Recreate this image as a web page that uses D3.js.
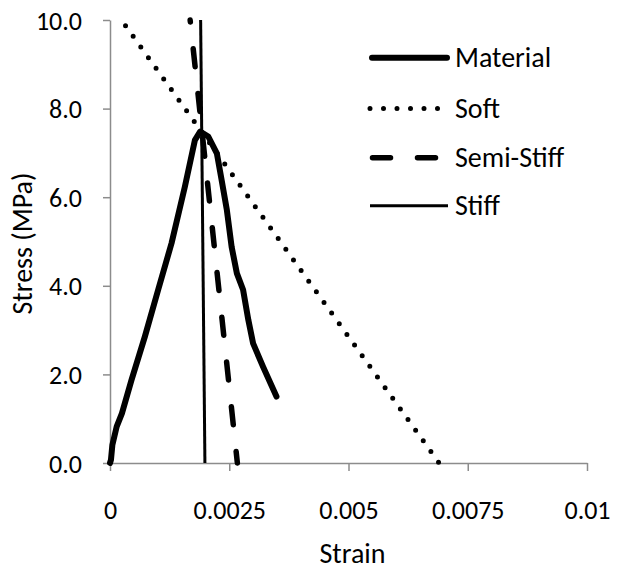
<!DOCTYPE html>
<html>
<head>
<meta charset="utf-8">
<script src="https://cdn.jsdelivr.net/npm/d3@7"></script>
<style>
  html, body { margin: 0; padding: 0; background: #fff; }
  svg { display: block; }
  text { font-family: Carlito, Lato, "DejaVu Sans", sans-serif; fill: #000; }
</style>
</head>
<body>
<svg id="chart" width="617" height="573"></svg>
<script>
// Stress–strain curves: measured material response and three loading lines
const materialStrain = [0, 0.00002, 0.00005, 0.00014, 0.00025, 0.00045, 0.00073, 0.00101, 0.00129, 0.00157, 0.00178, 0.00189,
                        0.00206, 0.00224, 0.00234, 0.00245, 0.00255, 0.00266, 0.00279, 0.0029, 0.003, 0.00321, 0.00349];
const materialStress = [0, 0.07, 0.41, 0.82, 1.12, 1.87, 2.85, 3.91, 4.96, 6.24, 7.29, 7.48,
                        7.37, 6.99, 6.39, 5.71, 4.88, 4.28, 3.91, 3.23, 2.7, 2.17, 1.5];
const softStrain = [0.00024, 0.0069];
const softStress = [10, 0];
const semiStiffStrain = [0.00168, 0.00267];
const semiStiffStress = [10, 0];
const stiffStrain = [0.0019, 0.00199];
const stiffStress = [10, 0];

const xTicks = [0, 0.0025, 0.005, 0.0075, 0.01];
const xTickLabels = ["0", "0.0025", "0.005", "0.0075", "0.01"];
const yTicks = [0, 2, 4, 6, 8, 10];
const yTickLabels = ["0.0", "2.0", "4.0", "6.0", "8.0", "10.0"];
const seriesNames = ["Material", "Soft", "Semi-Stiff", "Stiff"];

const svg = d3.select("#chart");
const plot = { left: 110, right: 587, top: 20, bottom: 463 };
const tickFont = 26, titleFont = 28;
const axisColor = "#8c8c8c";

const x = d3.scaleLinear().domain([0, 0.01]).range([plot.left, plot.right]);
const y = d3.scaleLinear().domain([0, 10]).range([plot.bottom, plot.top]);

// Axes
const xAxis = svg.append("g").attr("transform", `translate(0,${plot.bottom})`)
  .call(d3.axisBottom(x).tickValues(xTicks).tickFormat((d, i) => xTickLabels[i]).tickSize(8).tickSizeOuter(0));
const yAxis = svg.append("g").attr("transform", `translate(${plot.left},0)`)
  .call(d3.axisLeft(y).tickValues(yTicks).tickFormat((d, i) => yTickLabels[i]).tickSize(7).tickSizeOuter(0));

[xAxis, yAxis].forEach(g => {
  g.select(".domain").attr("stroke", axisColor).attr("stroke-width", 1.5);
  g.selectAll(".tick line").attr("stroke", axisColor).attr("stroke-width", 1.5);
  g.selectAll(".tick text").attr("font-size", tickFont).attr("fill", "#000")
    .style("font-family", "Carlito, Lato, sans-serif");
});
xAxis.selectAll(".tick text").attr("y", 0).attr("dy", null)
  .attr("transform", "translate(0,56)");
yAxis.selectAll(".tick text").attr("x", -28).attr("dy", null)
  .attr("transform", "translate(0,9)");

// Axis titles
svg.append("text").attr("x", (plot.left + plot.right) / 2 + 4).attr("y", 563)
  .attr("text-anchor", "middle").attr("font-size", titleFont).text("Strain");
svg.append("text").attr("transform", `translate(32,${(plot.top + plot.bottom) / 2 + 2}) rotate(-90)`)
  .attr("text-anchor", "middle").attr("font-size", titleFont).text("Stress (MPa)");

const line = d3.line().x(d => x(d[0])).y(d => y(d[1]));
const pairs = (a, b) => a.map((v, i) => [v, b[i]]);

// Soft loading line (round dots)
svg.append("path").datum(pairs(softStrain, softStress)).attr("d", line)
  .attr("fill", "none").attr("stroke", "#000").attr("stroke-width", 5)
  .attr("stroke-linecap", "round").attr("stroke-dasharray", "0 13.1").attr("stroke-dashoffset", 6.1);

// Semi-stiff loading line (long dashes)
svg.append("path").datum(pairs(semiStiffStrain, semiStiffStress)).attr("d", line)
  .attr("fill", "none").attr("stroke", "#000").attr("stroke-width", 5.5)
  .attr("stroke-linecap", "round").attr("stroke-dasharray", "18 27").attr("stroke-dashoffset", 16);

// Stiff loading line (thin solid)
svg.append("path").datum(pairs(stiffStrain, stiffStress)).attr("d", line)
  .attr("fill", "none").attr("stroke", "#000").attr("stroke-width", 3);

// Material curve (thick solid)
svg.append("path").datum(pairs(materialStrain, materialStress)).attr("d", line)
  .attr("fill", "none").attr("stroke", "#000").attr("stroke-width", 6)
  .attr("stroke-linejoin", "round").attr("stroke-linecap", "round");

// Legend
const legendStyles = [
  { w: 6, dash: null, cap: "round", x1: 372, x2: 447 },
  { w: 5, dash: "0 13.5", cap: "round", x1: 370, x2: 448 },
  { w: 5.5, dash: "18 27", cap: "round", x1: 372.5, x2: 437 },
  { w: 3, dash: null, cap: "butt", x1: 370, x2: 448 }
];
const legendY = [57.7, 108.4, 157.7, 205.7];
const legend = svg.append("g");
seriesNames.forEach((name, i) => {
  const s = legendStyles[i];
  legend.append("line").attr("x1", s.x1).attr("x2", s.x2)
    .attr("y1", legendY[i]).attr("y2", legendY[i])
    .attr("stroke", "#000").attr("stroke-width", s.w)
    .attr("stroke-linecap", s.cap).attr("stroke-dasharray", s.dash);
  legend.append("text").attr("x", 455).attr("y", legendY[i] + 9.5)
    .attr("font-size", titleFont).text(name);
});
</script>
</body>
</html>
